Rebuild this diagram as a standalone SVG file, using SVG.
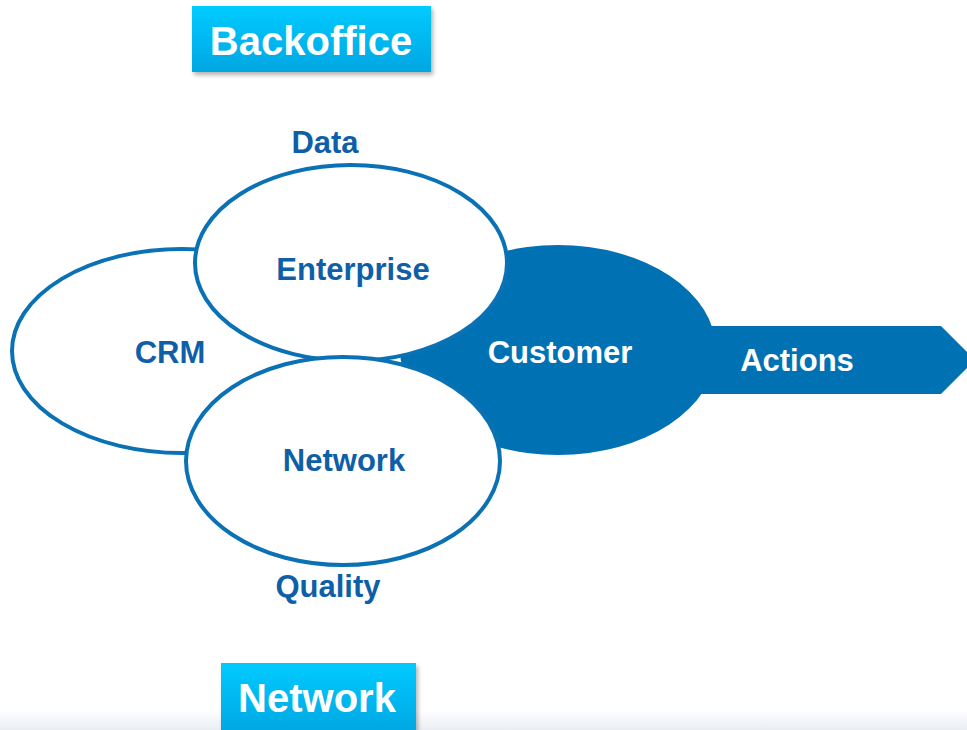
<svg xmlns="http://www.w3.org/2000/svg" width="967" height="730" viewBox="0 0 967 730">
<defs>
<linearGradient id="boxg" x1="0" y1="0" x2="0" y2="1">
<stop offset="0" stop-color="#00cbff"/>
<stop offset="1" stop-color="#00a6e2"/>
</linearGradient>
<linearGradient id="floor" x1="0" y1="0" x2="0" y2="1">
<stop offset="0" stop-color="#ffffff"/>
<stop offset="1" stop-color="#eaeef3"/>
</linearGradient>
<filter id="sh" x="-10%" y="-20%" width="125%" height="150%">
<feDropShadow dx="2" dy="3" stdDeviation="2" flood-color="#000" flood-opacity="0.3"/>
</filter>
<style>
.lbl{font-family:"Liberation Sans",Arial,sans-serif;font-weight:bold;font-size:31px;fill:#0f5fa8;text-anchor:middle}
.wht{font-family:"Liberation Sans",Arial,sans-serif;font-weight:bold;font-size:31px;fill:#ffffff;text-anchor:middle}
.box{font-family:"Liberation Sans",Arial,sans-serif;font-weight:bold;font-size:40px;fill:#ffffff;text-anchor:middle}
.ell{fill:#ffffff;stroke:#0a72b4;stroke-width:4}
.dark{fill:#0072b4}
</style>
</defs>
<rect x="0" y="0" width="967" height="730" fill="#ffffff"/>
<rect x="0" y="710" width="967" height="20" fill="url(#floor)"/>
<g id="customer">
<ellipse class="dark" cx="558" cy="350" rx="158" ry="105"/>
</g>
<g id="actions">
<polygon class="dark" points="695,326 941,326 975,360 941,394 695,394"/>
<text class="wht" x="797" y="371">Actions</text>
</g>
<g id="crm">
<ellipse class="ell" cx="182" cy="351" rx="170" ry="102"/>
<text class="lbl" x="170" y="363">CRM</text>
</g>
<g id="enterprise">
<ellipse class="ell" cx="351" cy="263" rx="156" ry="98"/>
<text class="lbl" x="353" y="280">Enterprise</text>
</g>
<g id="network">
<ellipse class="ell" cx="343" cy="461" rx="157" ry="104"/>
<text class="lbl" x="344" y="471">Network</text>
</g>
<g id="customer-label">
<text class="wht" x="560" y="363">Customer</text>
</g>
<g id="data">
<text class="lbl" x="325" y="153">Data</text>
</g>
<g id="quality">
<text class="lbl" x="328" y="597">Quality</text>
</g>
<g id="backoffice">
<rect x="192" y="6" width="239" height="66" fill="url(#boxg)" filter="url(#sh)"/>
<text class="box" x="311" y="55">Backoffice</text>
</g>
<g id="network-box">
<rect x="221" y="663" width="195" height="70" fill="url(#boxg)" filter="url(#sh)"/>
<text class="box" x="317" y="712">Network</text>
</g>
<g id="connectors"></g>
</svg>
